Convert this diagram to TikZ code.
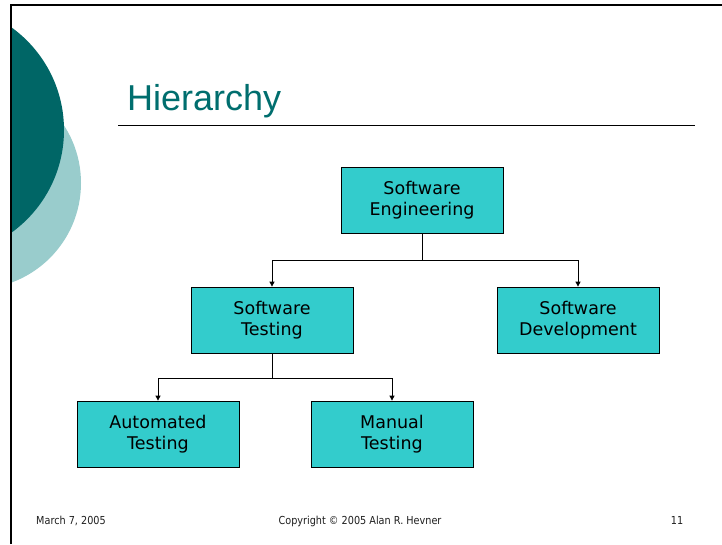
\documentclass[tikz,border=0pt]{standalone}
\usepackage{fontspec}
\setmainfont{DejaVu Sans}
\newfontfamily\titlefont{Liberation Sans}
\newfontfamily\footfont[FakeStretch=0.88]{DejaVu Sans}
\usetikzlibrary{arrows.meta}
\definecolor{boxfill}{RGB}{51,204,204}
\definecolor{darkteal}{RGB}{0,102,102}
\definecolor{lightteal}{RGB}{153,204,204}
\definecolor{titleteal}{RGB}{0,110,110}
\definecolor{foottext}{RGB}{30,30,30}
\tikzset{
  orgbox/.style={draw=black, line width=0.8pt, fill=boxfill, rectangle,
    minimum width=162pt, minimum height=66pt, align=center, inner sep=0pt,
    font=\fontsize{17.5}{20.6}\selectfont},
  link/.style={draw=black, line width=0.8pt},
  arrowlink/.style={link, -{Triangle[length=5pt,width=5pt]}},
  foot/.style={font=\footfont\fontsize{11}{13}\selectfont, text=foottext, inner sep=0pt, anchor=base}
}
\begin{document}
\begin{tikzpicture}[x=1pt,y=-1pt]
\useasboundingbox (0,0) rectangle (722,544);
% decorative circles
\begin{scope}
  \clip (11,0) rectangle (722,544);
  \fill[lightteal] (-25,183) circle[radius=106pt];
  \fill[darkteal] (-62.5,130) circle[radius=126.5pt];
\end{scope}
% frame
\draw[line width=2pt] (11,544) -- (11,5) -- (722,5);
% title
\node[anchor=base west, inner sep=0pt, text=titleteal,
  font=\titlefont\fontsize{36}{40}\selectfont] (title) at (127,110) {Hierarchy};
\coordinate (ruleL) at (118,125);
\coordinate (ruleR) at (695,125);
\draw[line width=1pt] (ruleL) -- (ruleR);
% boxes
\node[orgbox] (se) at (422,200) {Software\\Engineering};
\node[orgbox] (st) at (272,320) {Software\\Testing};
\node[orgbox] (sd) at (578,320) {Software\\Development};
\node[orgbox] (at) at (158,434) {Automated\\Testing};
\node[orgbox] (mt) at (392,434) {Manual\\Testing};
% connectors
\coordinate (j1) at (422,260);
\coordinate (j2) at (272,378);
\draw[link] (se.south) -- (j1);
\draw[arrowlink] (j1) -| (st.north);
\draw[arrowlink] (j1) -| (sd.north);
\draw[link] (st.south) -- (j2);
\draw[arrowlink] (j2) -| (at.north);
\draw[arrowlink] (j2) -| (mt.north);
% footer
\node[foot] (date) at (71,524) {March 7, 2005};
\node[foot] (copy) at (360,524) {Copyright © 2005 Alan R. Hevner};
\node[foot] (page) at (677,524) {11};
\end{tikzpicture}
\end{document}
